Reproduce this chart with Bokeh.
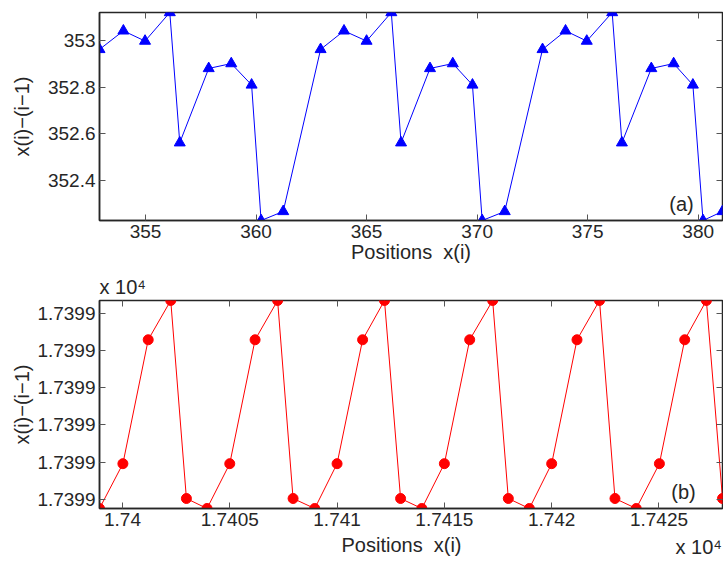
from bokeh.plotting import figure
from bokeh.layouts import column
from bokeh.models import (Range1d, FixedTicker, LinearAxis, Label, Title,
                          CustomJSTickFormatter)
from bokeh.embed import file_html
from bokeh.resources import INLINE

# ---------------- Panel (a) data ----------------
xa = [352.92, 354.00, 354.98, 356.10, 356.55, 357.86, 358.88, 359.80, 360.23, 361.23,
      362.92, 363.98, 365.00, 366.12, 366.56, 367.87, 368.90, 369.79, 370.23, 371.25,
      372.96, 374.00, 374.96, 376.11, 376.55, 377.88, 378.89, 379.76, 380.22, 381.10]
ya = [352.963, 353.043, 352.999, 353.122, 352.561, 352.881, 352.902, 352.810, 352.226, 352.265,
      352.963, 353.043, 352.999, 353.122, 352.561, 352.881, 352.902, 352.810, 352.226, 352.265,
      352.963, 353.043, 352.999, 353.122, 352.561, 352.881, 352.902, 352.810, 352.226, 352.265]
xa_ticks = [355, 360, 365, 370, 375, 380]
ya_ticks = [352.4, 352.6, 352.8, 353.0]

# ---------------- Panel (b) data ----------------
xb = [17398.93, 17400.02, 17401.20, 17402.25, 17402.98, 17403.94, 17405.00, 17406.18,
      17407.23, 17407.95, 17408.96, 17410.00, 17411.19, 17412.21, 17412.96, 17413.95,
      17415.00, 17416.18, 17417.25, 17417.98, 17418.96, 17420.00, 17421.18, 17422.23,
      17422.95, 17423.94, 17425.02, 17426.20, 17427.21, 17427.96]
yb = [17399.0949, 17399.1191, 17399.1860, 17399.2072, 17399.1003,
      17399.0949, 17399.1191, 17399.1860, 17399.2072, 17399.1003,
      17399.0949, 17399.1191, 17399.1860, 17399.2072, 17399.1003,
      17399.0949, 17399.1191, 17399.1860, 17399.2072, 17399.1003,
      17399.0949, 17399.1191, 17399.1860, 17399.2072, 17399.1003,
      17399.0949, 17399.1191, 17399.1860, 17399.2072, 17399.1003]
xb_ticks = [17400, 17405, 17410, 17415, 17420, 17425]
yb_ticks = [17399.10, 17399.12, 17399.14, 17399.16, 17399.18, 17399.20]

FONT = "Liberation Sans"
TXT = "#262626"
FS = "19px"
FSL = "20px"

fmt_g = CustomJSTickFormatter(code="return String(Number(tick.toPrecision(6)));")
fmt_e4 = CustomJSTickFormatter(code="return String(Number((tick/1e4).toPrecision(5)));")


def make_fig(x, y, xt, yt, xfmt, yfmt, height, bt, bb, ylab_standoff, xlabel):
    p = figure(width=723, height=height, output_backend="svg", toolbar_location=None,
               x_range=Range1d(min(x), max(x)), y_range=Range1d(min(y), max(y)),
               min_border_left=99, min_border_right=1, min_border_top=bt,
               min_border_bottom=bb)
    p.xgrid.visible = False
    p.ygrid.visible = False
    p.outline_line_color = TXT
    p.outline_line_width = 1.5
    p.outline_line_alpha = 1.0
    for ax, ticks, fmt in ((p.xaxis[0], xt, xfmt), (p.yaxis[0], yt, yfmt)):
        ax.ticker = FixedTicker(ticks=ticks)
        ax.formatter = fmt
        ax.major_tick_in = 6
        ax.major_tick_out = 0
        ax.minor_tick_in = 0
        ax.minor_tick_out = 0
        ax.major_tick_line_color = "#555555"
        ax.axis_line_color = TXT
        ax.axis_line_width = 1.5
        ax.major_label_text_font = FONT
        ax.major_label_text_font_size = FS
        ax.major_label_text_color = TXT
        ax.major_label_standoff = 4
        ax.axis_label_text_font = FONT
        ax.axis_label_text_font_size = FSL
        ax.axis_label_text_font_style = "normal"
        ax.axis_label_text_color = TXT
    if xlabel:
        p.xaxis[0].axis_label = xlabel
        p.xaxis[0].axis_label_standoff = 0
    p.yaxis[0].axis_label = "x(i)\u2212(i\u22121)"
    p.yaxis[0].axis_label_standoff = ylab_standoff
    # box ticks on top and right (inward)
    for loc, ticks in (("above", xt), ("right", yt)):
        ax = LinearAxis(ticker=FixedTicker(ticks=ticks), axis_line_color=None,
                        major_tick_in=6, major_tick_out=0, minor_tick_in=0, minor_tick_out=0,
                        major_tick_line_color="#555555", major_label_text_font_size="0px",
                        major_label_standoff=0, formatter=CustomJSTickFormatter(code="return '';"))
        p.add_layout(ax, loc)
    return p


XLABEL = "Positions\u00a0 x(i)"

pa = make_fig(xa, ya, xa_ticks, ya_ticks, fmt_g, fmt_g, 268, 12, 48, 12, XLABEL)
pa.line(xa, ya, line_color="#0000ff", line_width=1)
pa.scatter(xa, ya, marker="triangle", size=11, fill_color="#0000ff", line_color="#0000ff")
pa.add_layout(Label(x=582, y=17, x_units="screen", y_units="screen", text="(a)",
                    text_align="center", text_baseline="middle", text_font=FONT,
                    text_font_size=FSL, text_color=TXT))

pb = make_fig(xb, yb, xb_ticks, yb_ticks, fmt_e4, fmt_e4, 267, 32, 27, 1, None)
pb.line(xb, yb, line_color="#ff0000", line_width=1)
pb.scatter(xb, yb, marker="circle", size=10, fill_color="#ff0000", line_color="#ff0000")
pb.add_layout(Label(x=584, y=17, x_units="screen", y_units="screen", text="(b)",
                    text_align="center", text_baseline="middle", text_font=FONT,
                    text_font_size=FSL, text_color=TXT))
# exponent label above the y axis
pb.add_layout(Title(text="x 10\u2074", align="left", offset=0, standoff=6,
                    text_font=FONT, text_font_size=FSL, text_font_style="normal",
                    text_color=TXT), "above")

# strip under panel (b): x-axis title and exponent label
# (its frame is aligned with the panels above: left edge at ~98 px)
pc = figure(width=723, height=26, output_backend="svg", toolbar_location=None,
            x_axis_type=None, y_axis_type=None, x_range=Range1d(0, 1), y_range=Range1d(0, 1),
            min_border_left=0, min_border_right=0, min_border_top=0, min_border_bottom=0)
pc.outline_line_color = None
pc.xgrid.visible = False
pc.ygrid.visible = False
pc.add_layout(Label(x=302, y=17, x_units="screen", y_units="screen", text=XLABEL,
                    text_align="center", text_baseline="middle", text_font=FONT,
                    text_font_size=FSL, text_color=TXT))
pc.add_layout(Label(x=576, y=15, x_units="screen", y_units="screen", text="x 10\u2074",
                    text_align="left", text_baseline="middle", text_font=FONT,
                    text_font_size=FSL, text_color=TXT))

layout = column(pa, pb, pc, spacing=0)
open("out.html", "w").write(file_html(layout, INLINE))
